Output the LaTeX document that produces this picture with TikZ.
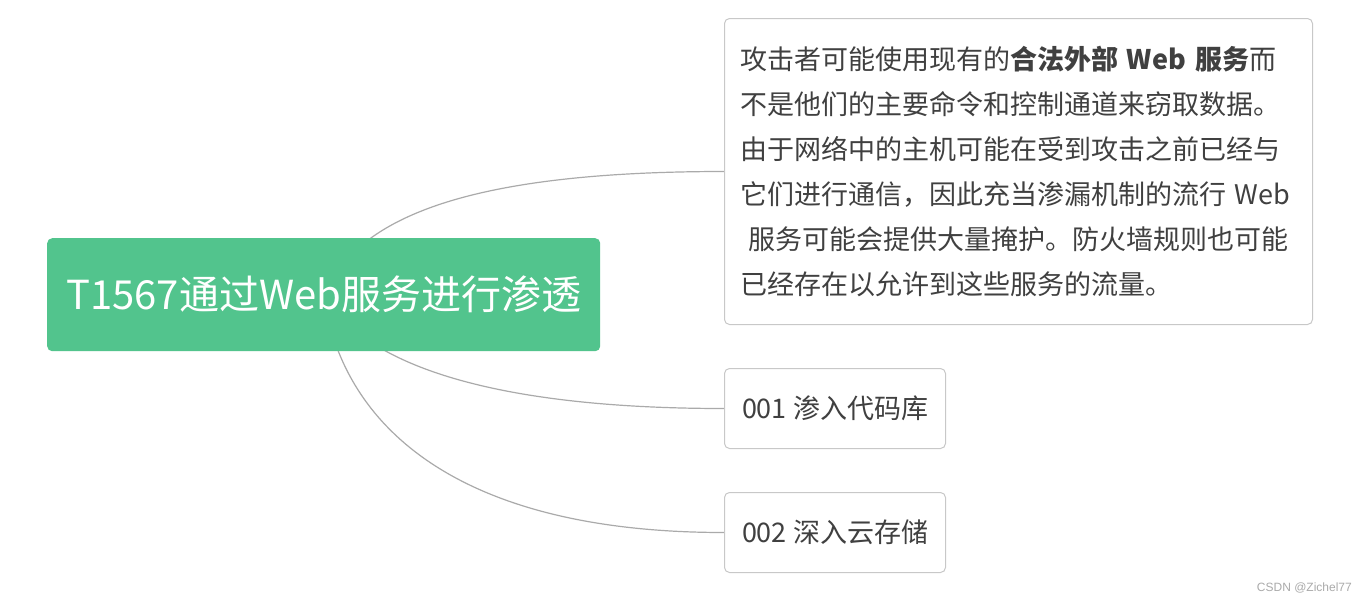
\documentclass[tikz,border=0pt]{standalone}
\usepackage{fontspec}
\setmainfont{Noto Sans CJK SC}
\newfontfamily\wmfont{Liberation Sans}
\usetikzlibrary{backgrounds}
\definecolor{rootgreen}{RGB}{82,196,141}
\definecolor{txtgray}{RGB}{64,64,64}
\definecolor{boxgray}{RGB}{200,200,200}
\definecolor{linegray}{RGB}{170,170,170}
\definecolor{wmgray}{RGB}{170,170,170}
\tikzset{
  rootbox/.style={fill=rootgreen, rounded corners=5pt, text=white, inner sep=0pt,
    font=\fontsize{40}{46}\selectfont},
  childbox/.style={draw=boxgray, line width=1pt, fill=white, rounded corners=5pt,
    text=txtgray, inner sep=0pt, font=\fontsize{27}{45}\selectfont},
  branch/.style={draw=linegray, line width=1.2pt},
}
\begin{document}
\begin{tikzpicture}[x=1pt,y=-1pt]
\useasboundingbox (0,0) rectangle (1368,603);
\node[rootbox, minimum width=553pt, minimum height=113pt, anchor=north west] (root) at (47,238) {T1567通过Web服务进行渗透};
\node[childbox, minimum width=588pt, minimum height=306pt, anchor=north west, text width=557pt, align=left, inner xsep=15pt] (c1) at (724,18)
 {攻击者可能使用现有的\textbf{合法外部 Web 服务}而\\
  不是他们的主要命令和控制通道来窃取数据。\\
  由于网络中的主机可能在受到攻击之前已经与\\
  它们进行通信，因此充当渗漏机制的流行 Web\\
  \hspace*{0.3em}服务可能会提供大量掩护。防火墙规则也可能\\
  已经存在以允许到这些服务的流量。};
\node[childbox, minimum width=221pt, minimum height=80pt, anchor=north west] (c2) at (724,368) {001 渗入代码库};
\node[childbox, minimum width=221pt, minimum height=80pt, anchor=north west] (c3) at (724,492) {002 深入云存储};
\node[anchor=east, text=wmgray, font=\wmfont\fontsize{12}{14}\selectfont, inner sep=0pt] (wm) at (1352,588) {CSDN @Zichel77};
\begin{scope}[on background layer]
  \fill[white] (0,0) rectangle (1368,603);
  \draw[branch] (root.center) .. controls +(32,-72) and +(-270,0) .. (c1.west);
  \draw[branch] (root.center) .. controls +(37,65) and +(-245,0) .. (c2.west);
  \draw[branch] (root.center) .. controls +(17,125) and +(-275,0) .. (c3.west);
\end{scope}
\end{tikzpicture}
\end{document}
